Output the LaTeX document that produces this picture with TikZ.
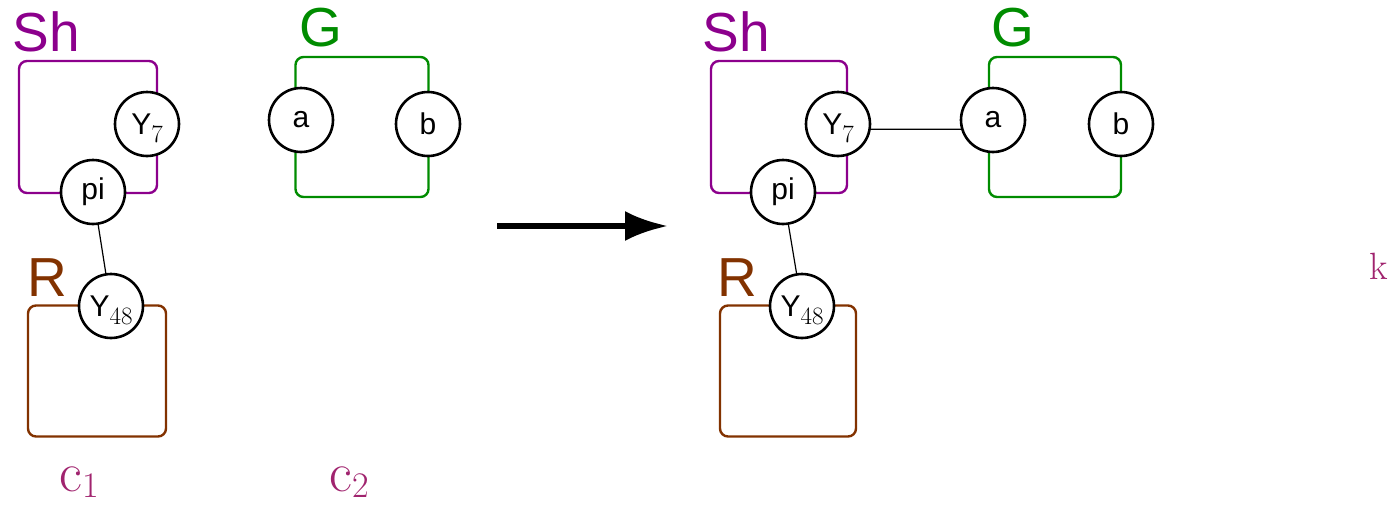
\documentclass[tikz,border=0pt]{standalone}
\usepackage{fontspec}
\setsansfont{Liberation Sans}
\usetikzlibrary{arrows.meta, positioning, calc}
\definecolor{shpurple}{RGB}{140,0,140}
\definecolor{ggreen}  {RGB}{0,140,0}
\definecolor{rbrown}  {RGB}{130,50,0}
\definecolor{cmag}    {RGB}{160,35,110}

\newcommand{\boxlabfont}{\sffamily\fontsize{55}{60}\selectfont}
\newcommand{\portfont}{\sffamily\fontsize{30}{34}\selectfont}
\newcommand{\lowsub}[1]{\raisebox{-8pt}[0pt][0pt]{\rmfamily\fontsize{25}{25}\selectfont #1}}
\newcommand{\compsub}[1]{\raisebox{-6pt}{\rmfamily\fontsize{36}{36}\selectfont #1}}

\tikzset{
  port/.style={circle, draw=black, line width=2.6pt, fill=white,
               minimum size=64pt, inner sep=0pt, font=\portfont},
  cbox/.style={draw=#1, line width=2.4pt, rounded corners=8pt,
               inner sep=0pt},
  boxlab/.style={text=#1, font=\boxlabfont, inner sep=0pt},
  link/.style={draw=black, line width=1.2pt},
  complab/.style={text=cmag, font=\rmfamily\fontsize{56}{56}\selectfont,
                  inner sep=0pt},
  bigarrow/.style={line width=6pt, -{Latex[length=43pt, width=30pt]}}
}

\begin{document}
\begin{tikzpicture}[x=1pt, y=-1pt]
  \useasboundingbox (0,0) rectangle (1393,507);

  % left: c1 and c2 apart
  \node[cbox=shpurple, minimum width=138pt, minimum height=132pt] (shL) at (88,127) {};
  \node[boxlab=shpurple] (shLlab) at (46,32) {Sh};
  \node[port] (y7L) at (147,124) {Y\lowsub{7}};
  \node[port] (piL) at (93,192) {pi};

  \node[cbox=rbrown, minimum width=138pt, minimum height=131pt] (rL) at (97,371) {};
  \node[boxlab=rbrown] (rLlab) at (47,278) {R};
  \node[port] (y48L) at (111,306) {Y\lowsub{48}};
  \draw[link] (piL) -- (y48L);

  \node[cbox=ggreen, minimum width=133pt, minimum height=140pt] (gL) at (362,127) {};
  \node[boxlab=ggreen] (gLlab) at (321,28) {G};
  \node[port] (aL) at (301,120) {a};
  \node[port] (bL) at (428,124) {b};

  \node[complab, anchor=base] (c1) at (79,491) {c\compsub{1}};
  \node[complab, anchor=base] (c2) at (349,491) {c\compsub{2}};

  % rewrite step
  \coordinate (arrS) at (497,226);
  \coordinate (arrE) at (668,226);
  \draw[bigarrow] (arrS) -- (arrE);

  % right: c1 and c2 joined
  \node[cbox=shpurple, minimum width=136pt, minimum height=132pt] (shR) at (779,127) {};
  \node[boxlab=shpurple] (shRlab) at (736,32) {Sh};
  \node[port] (y7R) at (838,124) {Y\lowsub{7}};
  \node[port] (piR) at (783,192) {pi};

  \node[cbox=rbrown, minimum width=136pt, minimum height=131pt] (rR) at (788,371) {};
  \node[boxlab=rbrown] (rRlab) at (737,278) {R};
  \node[port] (y48R) at (802,306) {Y\lowsub{48}};
  \draw[link] (piR) -- (y48R);

  \node[cbox=ggreen, minimum width=132pt, minimum height=140pt] (gR) at (1055,127) {};
  \node[boxlab=ggreen] (gRlab) at (1013,28) {G};
  \node[port] (aR) at (993,120) {a};
  \node[port] (bR) at (1121,124) {b};
  \draw[link] (y7R.-9) -- (aR.196);

  \node[complab, font=\rmfamily\fontsize{38}{38}\selectfont] (k) at (1379,266) {k};
\end{tikzpicture}
\end{document}
